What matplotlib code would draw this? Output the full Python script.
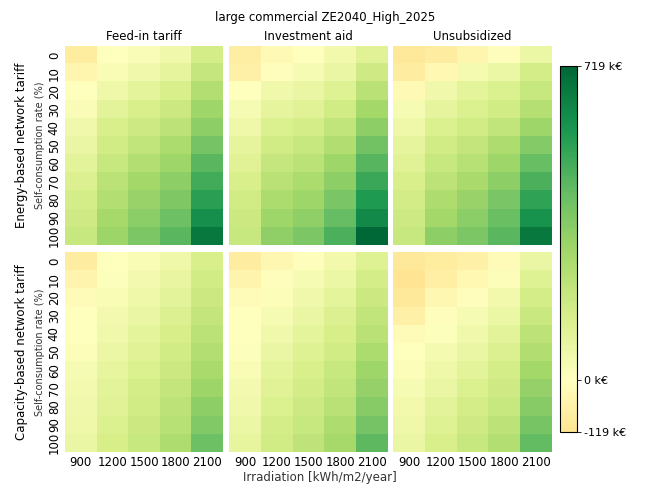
import numpy as np
import matplotlib
matplotlib.use("Agg")
import matplotlib.pyplot as plt
from matplotlib.colors import ListedColormap

# Axis categories
irradiation = [900, 1200, 1500, 1800, 2100]
self_consumption = [0, 10, 20, 30, 40, 50, 60, 70, 80, 90, 100]
subsidy_schemes = ["Feed-in tariff", "Investment aid", "Unsubsidized"]
tariff_types = ["Energy-based network tariff", "Capacity-based network tariff"]

# Net present value (k€); rows = self-consumption rate, columns = irradiation
energy_feed_in = [
    [-86, 5, 22, 53, 158],
    [-42, 26, 57, 95, 200],
    [0, 64, 99, 144, 251],
    [19, 102, 144, 183, 297],
    [57, 140, 178, 223, 339],
    [80, 169, 214, 265, 393],
    [103, 197, 248, 303, 449],
    [129, 225, 288, 339, 499],
    [153, 253, 317, 375, 545],
    [173, 282, 346, 413, 599],
    [192, 308, 378, 450, 665],
]
energy_investment_aid = [
    [-75, -25, 0, 45, 114],
    [-64, -5, 34, 76, 172],
    [-3, 53, 76, 121, 234],
    [34, 91, 117, 165, 290],
    [64, 132, 158, 209, 342],
    [95, 169, 195, 257, 400],
    [117, 200, 228, 301, 454],
    [144, 234, 265, 342, 513],
    [163, 266, 301, 384, 563],
    [183, 301, 333, 429, 617],
    [197, 335, 380, 480, 719],
]
energy_unsubsidized = [
    [-97, -78, -42, -6, 68],
    [-78, -28, 38, 72, 155],
    [-25, 53, 99, 132, 195],
    [34, 95, 132, 165, 245],
    [64, 132, 169, 211, 299],
    [91, 165, 203, 259, 360],
    [114, 195, 240, 301, 422],
    [144, 223, 276, 339, 480],
    [161, 259, 315, 382, 530],
    [178, 290, 344, 418, 584],
    [197, 339, 380, 452, 665],
]
capacity_feed_in = [
    [-78, -2, 26, 61, 144],
    [-47, 11, 42, 83, 163],
    [-11, 26, 61, 106, 183],
    [-2, 42, 80, 129, 206],
    [0, 57, 99, 151, 228],
    [15, 72, 117, 165, 251],
    [30, 87, 136, 183, 279],
    [42, 102, 153, 203, 308],
    [53, 117, 165, 220, 339],
    [64, 132, 180, 240, 371],
    [76, 151, 195, 259, 411],
]
capacity_investment_aid = [
    [-78, -36, -5, 45, 121],
    [-47, -10, 30, 72, 155],
    [-17, 12, 53, 99, 180],
    [-2, 34, 76, 125, 209],
    [0, 57, 99, 151, 237],
    [8, 76, 121, 169, 265],
    [26, 99, 144, 192, 297],
    [42, 117, 161, 214, 326],
    [57, 136, 178, 237, 355],
    [72, 155, 197, 259, 395],
    [87, 169, 217, 285, 446],
]
capacity_unsubsidized = [
    [-100, -83, -61, -17, 80],
    [-119, -69, -28, 12, 121],
    [-98, -36, -5, 45, 158],
    [-64, -10, 30, 72, 189],
    [-17, 8, 57, 102, 223],
    [-2, 38, 80, 129, 257],
    [15, 61, 106, 155, 290],
    [30, 80, 132, 175, 321],
    [45, 102, 153, 197, 355],
    [61, 121, 173, 223, 391],
    [76, 144, 192, 248, 431],
]

grid = [
    [energy_feed_in, energy_investment_aid, energy_unsubsidized],
    [capacity_feed_in, capacity_investment_aid, capacity_unsubsidized],
]

vmin, vmax = -119, 719
# Green half of RdYlGn, starting where the symmetric scale puts vmin
lo = 0.5 + 0.5 * vmin / vmax
cmap = ListedColormap(plt.get_cmap("RdYlGn")(np.linspace(lo, 1.0, 256)))

W, H = 647, 488
fig = plt.figure(figsize=(W / 100, H / 100), dpi=100)

def px_axes(x0, y0, x1, y1):
    return fig.add_axes([x0 / W, 1 - y1 / H, (x1 - x0) / W, (y1 - y0) / H])

col_px = [(65, 223), (229, 388), (393, 552)]
row_px = [(46, 245), (252, 452)]
fs = 8.5

for r, (y0, y1) in enumerate(row_px):
    for c, (x0, x1) in enumerate(col_px):
        ax = px_axes(x0, y0, x1, y1)
        data = np.array(grid[r][c], dtype=float)
        im = ax.imshow(data, cmap=cmap, vmin=vmin, vmax=vmax,
                       aspect="auto", interpolation="nearest")
        for s in ax.spines.values():
            s.set_visible(False)
        ax.tick_params(length=0, labelsize=fs, pad=3)
        ax.set_xticks(range(len(irradiation)))
        ax.set_yticks(range(len(self_consumption)))
        if r == 1:
            ax.set_xticklabels([str(v) for v in irradiation])
        else:
            ax.set_xticklabels([])
        if c == 0:
            ax.set_yticklabels([str(v) for v in self_consumption], rotation=90,
                               va="center")
            ax.set_ylabel("Self-consumption rate (%)", fontsize=7, labelpad=2,
                          color="#333333")
        else:
            ax.set_yticklabels([])
        if r == 0:
            ax.set_title(subsidy_schemes[c], fontsize=fs, pad=4)

for r, (y0, y1) in enumerate(row_px):
    fig.text(22 / W, 1 - (y0 + y1) / 2 / H, tariff_types[r], rotation=90,
             ha="center", va="center", fontsize=fs)

fig.text(325 / W, 1 - 18 / H, "large commercial ZE2040_High_2025",
         ha="center", va="center", fontsize=fs)
fig.text(320 / W, 1 - 477 / H, "Irradiation [kWh/m2/year]",
         ha="center", va="center", fontsize=fs, color="#333333")

cax = px_axes(560, 66, 577, 432)
cb = fig.colorbar(im, cax=cax)
cb.set_ticks([-119, 0, 719])
cb.set_ticklabels(["-119 k€", "0 k€", "719 k€"])
cb.ax.tick_params(labelsize=8, length=3, width=0.6, pad=2)
cb.outline.set_linewidth(0.8)

fig.savefig("out.png", dpi=100)
